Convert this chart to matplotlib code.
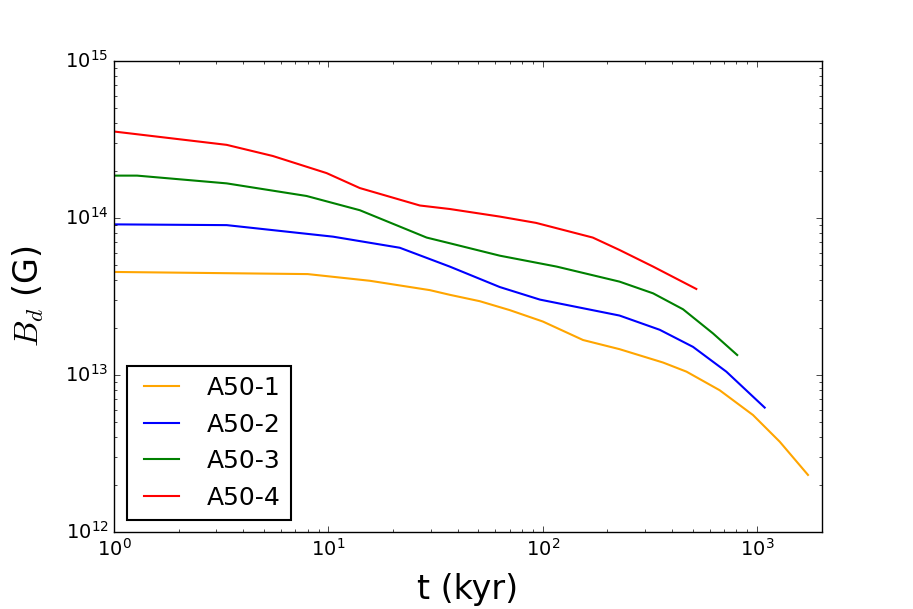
import matplotlib
matplotlib.use("Agg")
import matplotlib.pyplot as plt

plt.style.use('classic')

t1 = [1.0, 8.0, 15.6, 29.7, 36.8, 50.8, 70, 100, 154, 228, 364, 468, 668, 956, 1274, 1726]
b1 = [4.53e13, 4.39e13, 3.98e13, 3.47e13, 3.24e13, 2.95e13, 2.59e13, 2.19e13, 1.67e13,
      1.46e13, 1.20e13, 1.05e13, 8.0e12, 5.56e12, 3.76e12, 2.31e12]

t2 = [1.0, 3.35, 10.5, 21.5, 30.8, 36.8, 63, 96.9, 228, 351, 502, 718, 1084]
b2 = [9.1e13, 9.0e13, 7.6e13, 6.46e13, 5.37e13, 4.9e13, 3.63e13, 3.02e13, 2.39e13,
      1.94e13, 1.51e13, 1.05e13, 6.2e12]

t3 = [1.0, 1.28, 3.35, 7.9, 14, 28.7, 36.8, 63, 116, 228, 327, 451, 622, 807]
b3 = [1.86e14, 1.86e14, 1.66e14, 1.38e14, 1.12e14, 7.5e13, 6.9e13, 5.75e13, 4.9e13,
      3.93e13, 3.31e13, 2.62e13, 1.84e13, 1.34e13]

t4 = [1.0, 3.35, 5.5, 9.8, 14, 26.7, 36.8, 63, 93, 171, 228, 327, 520]
b4 = [3.55e14, 2.92e14, 2.48e14, 1.93e14, 1.55e14, 1.2e14, 1.14e14, 1.02e14, 9.3e13,
      7.5e13, 6.25e13, 4.9e13, 3.53e13]

labels = ['A50-1', 'A50-2', 'A50-3', 'A50-4']
colors = ['orange', 'b', 'g', 'r']

fig = plt.figure(figsize=(9.13, 6.09), dpi=100, facecolor='white')
ax = fig.add_axes([0.125, 0.1264, 0.775, 0.7736])
for t, b, lab, c in zip([t1, t2, t3, t4], [b1, b2, b3, b4], labels, colors):
    ax.plot(t, b, color=c, label=lab, lw=1.5)

ax.set_xscale('log')
ax.set_yscale('log')
ax.set_xlim(1, 2000)
ax.set_ylim(1e12, 1e15)
ax.set_xlabel('t (kyr)', fontsize=24, labelpad=10)
ax.set_ylabel(r'$B_d$ (G)', fontsize=24, labelpad=14)
ax.tick_params(labelsize=14)
leg = ax.legend(loc='lower left', fontsize=18)
leg.get_frame().set_linewidth(1.5)
fig.savefig('out.png', dpi=100, facecolor='white')
